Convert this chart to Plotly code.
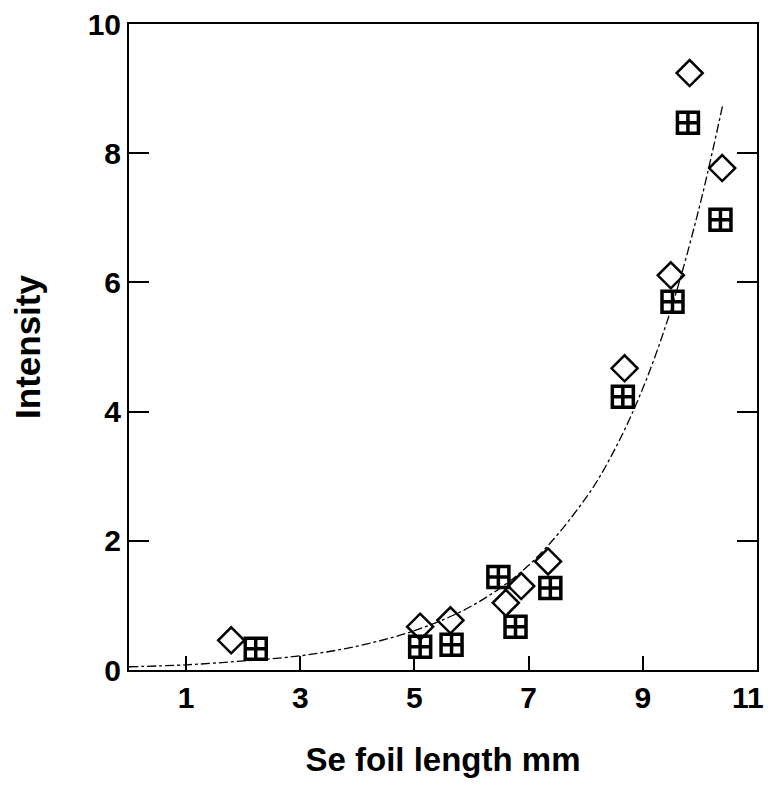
import plotly.graph_objects as go

# Open diamonds
diamond_x = [1.79, 5.10, 5.63, 6.60, 6.87, 7.34, 8.68, 9.49, 9.82, 10.39]
diamond_y = [0.46, 0.67, 0.77, 1.04, 1.30, 1.68, 4.67, 6.11, 9.24, 7.77]

# Hatched squares
square_x = [2.22, 5.10, 5.65, 6.47, 6.77, 7.38, 8.65, 9.52, 9.79, 10.36]
square_y = [0.33, 0.36, 0.39, 1.44, 0.67, 1.27, 4.23, 5.70, 8.47, 6.97]

# Fitted curve
curve_x = [0.0, 1.0, 2.0, 3.0, 4.0, 5.0, 6.0, 7.0, 8.0, 8.5, 9.0, 9.5, 10.0, 10.4]
curve_y = [0.05, 0.08, 0.14, 0.22, 0.37, 0.61, 0.99, 1.62, 2.66, 3.40, 4.36, 5.60, 7.20, 8.75]

x_ticks = [1, 3, 5, 7, 9, 11]
x_tick_labels = ["1", "3", "5", "7", "9", "11"]
y_ticks = [0, 2, 4, 6, 8, 10]

font_family = "Liberation Sans, Arial, sans-serif"
tick_font = dict(family=font_family, size=30, color="black", weight="bold")

fig = go.Figure()
fig.add_trace(go.Scatter(
    x=curve_x, y=curve_y, mode="lines",
    line=dict(color="black", width=1.3, dash="dashdot", shape="spline"),
    showlegend=False, hoverinfo="skip"))
fig.add_trace(go.Scatter(
    x=square_x, y=square_y, mode="markers",
    marker=dict(symbol="square-cross-open", size=21, color="black",
                line=dict(color="black", width=3.5)),
    showlegend=False))
fig.add_trace(go.Scatter(
    x=diamond_x, y=diamond_y, mode="markers",
    marker=dict(symbol="diamond-open", size=20, color="black",
                line=dict(color="black", width=2.5)),
    showlegend=False))

axis_common = dict(
    showgrid=False, zeroline=False, showline=True, linecolor="black",
    linewidth=2, ticks="inside", tickcolor="black", tickwidth=2,
    ticklabeloverflow="allow", tickfont=tick_font,
)

# The last x label sits at the window edge; it is drawn as an annotation nudged inward.
fig.update_xaxes(
    range=[0, 11], tickmode="array", tickvals=x_ticks,
    ticktext=x_tick_labels[:-1] + [""], ticklen=14, mirror=True,
    ticklabelstandoff=0,
    title=dict(text="Se foil length mm", standoff=37,
               font=dict(family=font_family, size=33, color="black", weight="bold")),
    **axis_common)
fig.update_yaxes(
    range=[0, 10], tickmode="array", tickvals=y_ticks,
    ticktext=[str(v) for v in y_ticks], ticklen=20, mirror="ticks",
    ticklabelstandoff=0,
    title=dict(text="Intensity", standoff=40,
               font=dict(family=font_family, size=35, color="black", weight="bold")),
    **axis_common)

fig.add_annotation(
    x=x_ticks[-1], xref="x", y=0, yref="paper", text=x_tick_labels[-1],
    showarrow=False, xanchor="center", yanchor="middle", xshift=-9, yshift=-27,
    font=tick_font)

# The page body adds an 8px margin on every side, so the figure is sized to fit the window.
fig.update_layout(
    width=759, height=770,
    margin=dict(l=121, r=10, t=16, b=108, autoexpand=False),
    plot_bgcolor="white", paper_bgcolor="white",
)

fig.write_html("out.html")
